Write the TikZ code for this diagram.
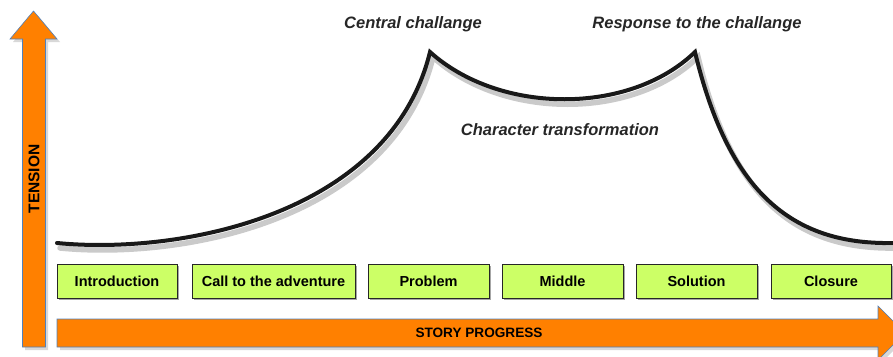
\documentclass[tikz,border=0pt]{standalone}
\usepackage{fontspec}
\setmainfont{Liberation Sans}
\usetikzlibrary{shadows}
\definecolor{arroworange}{HTML}{FF8000}
\definecolor{arrowedge}{HTML}{4F81BD}
\definecolor{boxgreen}{HTML}{CCFF66}
\tikzset{
  stagebox/.style={draw=black!85, line width=0.8pt, fill=boxgreen, minimum height=34pt,
    inner sep=0pt, font=\fontsize{14.5}{16}\selectfont\bfseries,
    drop shadow={shadow xshift=2pt, shadow yshift=-2pt, fill=black, opacity=0.35}},
  bigarrow/.style={fill=arroworange, draw=arrowedge, line width=0.6pt},
  italabel/.style={font=\fontsize{16.5}{18}\selectfont\bfseries\itshape, text=black!85},
  arrowlabel/.style={font=\fontsize{13.6}{15}\selectfont\bfseries},
  tensionlabel/.style={font=\fontsize{15.5}{17}\selectfont\bfseries},
  curveline/.style={line width=4pt, black!90, line cap=round, line join=miter},
  curveshadow/.style={line width=5.5pt, black!35, line cap=round, opacity=0.6}
}
\begin{document}
\begin{tikzpicture}[x=1pt,y=-1pt]
\useasboundingbox (0,0) rectangle (893,356);
% vertical arrow
\fill[black!30, opacity=0.5] (25,350) -- (25,42) -- (13,42) -- (36.5,14) -- (60,42) -- (48,42) -- (48,350) -- cycle;
\draw[bigarrow] (22.5,347) -- (22.5,39) -- (10,39) -- (33.5,11) -- (57,39) -- (45.5,39) -- (45.5,347) -- cycle;
\node[tensionlabel, rotate=90] (tension) at (34,179) {TENSION};
% horizontal arrow
\fill[black!30, opacity=0.5] (60,322) -- (881,322) -- (881,309) -- (908,336) -- (881,363) -- (881,350) -- (60,350) -- cycle;
\draw[bigarrow] (57,319) -- (878,319) -- (878,306) -- (905,333) -- (878,360) -- (878,347) -- (57,347) -- cycle;
\node[arrowlabel] (progress) at (479,333) {STORY PROGRESS};
% curve shadow
\draw[curveshadow, shift={(3,5)}] (57,243) .. controls (180,255) and (390,215) .. (430,52)
  .. controls (500,115) and (630,115) .. (695,52)
  .. controls (728,190) and (790,245) .. (893,243);
% curve
\draw[curveline] (57,243) .. controls (180,255) and (390,215) .. (430,52)
  .. controls (500,115) and (630,115) .. (695,52)
  .. controls (728,190) and (790,245) .. (893,243);
% labels
\node[italabel] (central) at (413,24) {Central challange};
\node[italabel] (response) at (697,24) {Response to the challange};
\node[italabel] (transform) at (560,130) {Character transformation};
% stage boxes
\node[stagebox, minimum width=120pt] (intro) at (117,281) {Introduction};
\node[stagebox, minimum width=163pt] (call) at (273.5,281) {Call to the adventure};
\node[stagebox, minimum width=121pt] (problem) at (428.5,281) {Problem};
\node[stagebox, minimum width=121pt] (middle) at (562.5,281) {Middle};
\node[stagebox, minimum width=121pt] (solution) at (696.5,281) {Solution};
\node[stagebox, minimum width=120pt] (closure) at (831,281) {Closure};
\end{tikzpicture}
\end{document}
